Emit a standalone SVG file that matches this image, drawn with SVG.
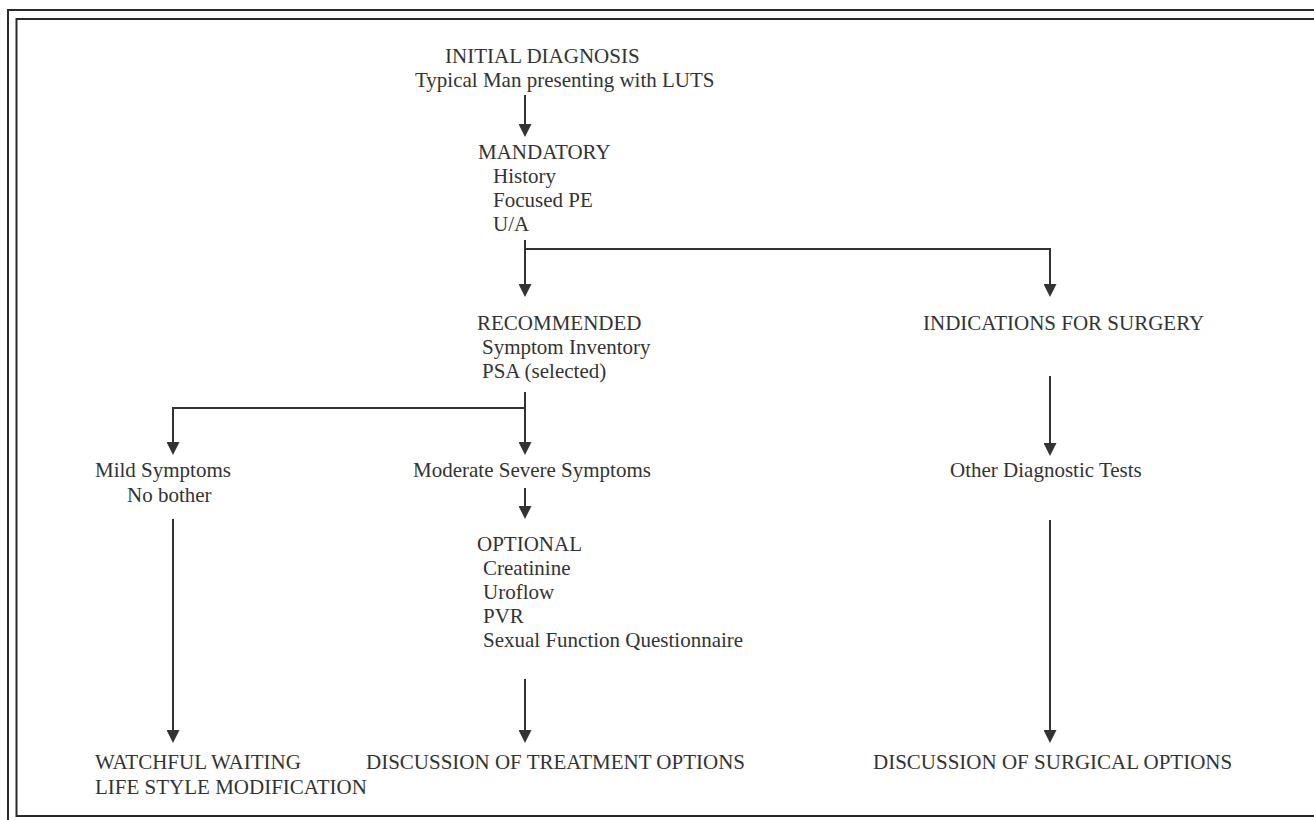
<svg xmlns="http://www.w3.org/2000/svg" width="1314" height="820" viewBox="0 0 1314 820">
  <style>
    text { font-family: "Liberation Serif", "Times New Roman", serif; font-size: 21px; fill: #333; }
    .wire { fill: none; stroke: #333; stroke-width: 2; }
    .frame { fill: none; stroke: #2a2a2a; stroke-width: 2; }
  </style>
  <defs>
    <marker id="head" markerUnits="userSpaceOnUse" markerWidth="13" markerHeight="13" refX="3" refY="6.5" orient="auto">
      <path d="M0,0 L13,6.5 L0,13 Z" fill="#333"/>
    </marker>
  </defs>

  <rect width="1314" height="820" fill="#fff"/>

  <!-- double frame -->
  <path class="frame" d="M8,830 V10 H1324"/>
  <path class="frame" d="M1324,19 H16.5 V816 H1324" stroke="#444"/>

  <!-- connectors -->
  <g id="connectors">
    <path class="wire" d="M525,95 V127" marker-end="url(#head)"/>
    <path class="wire" d="M525,240 V287" marker-end="url(#head)"/>
    <path class="wire" d="M525,249 H1050 V287" marker-end="url(#head)"/>
    <path class="wire" d="M1050,376 V446" marker-end="url(#head)"/>
    <path class="wire" d="M525,392 V445" marker-end="url(#head)"/>
    <path class="wire" d="M525,408 H173 V445" marker-end="url(#head)"/>
    <path class="wire" d="M173,519 V733" marker-end="url(#head)"/>
    <path class="wire" d="M525,488 V509" marker-end="url(#head)"/>
    <path class="wire" d="M525,679 V733" marker-end="url(#head)"/>
    <path class="wire" d="M1050,520 V733" marker-end="url(#head)"/>
  </g>

  <g id="initial">
    <text x="445" y="63">INITIAL DIAGNOSIS</text>
    <text x="415" y="87">Typical Man presenting with LUTS</text>
  </g>

  <g id="mandatory">
    <text x="478" y="159">MANDATORY</text>
    <text x="493" y="183">History</text>
    <text x="493" y="207">Focused PE</text>
    <text x="493" y="231">U/A</text>
  </g>

  <g id="recommended">
    <text x="477" y="330">RECOMMENDED</text>
    <text x="482" y="354">Symptom Inventory</text>
    <text x="482" y="378">PSA (selected)</text>
  </g>

  <g id="surgery-indications">
    <text x="923" y="330">INDICATIONS FOR SURGERY</text>
  </g>

  <g id="mild">
    <text x="95" y="477">Mild Symptoms</text>
    <text x="127" y="502">No bother</text>
  </g>

  <g id="moderate">
    <text x="413" y="477">Moderate Severe Symptoms</text>
  </g>

  <g id="other-tests">
    <text x="950" y="477">Other Diagnostic Tests</text>
  </g>

  <g id="optional">
    <text x="477" y="551">OPTIONAL</text>
    <text x="483" y="575">Creatinine</text>
    <text x="483" y="599">Uroflow</text>
    <text x="483" y="623">PVR</text>
    <text x="483" y="647">Sexual Function Questionnaire</text>
  </g>

  <g id="watchful">
    <text x="95" y="769">WATCHFUL WAITING</text>
    <text x="95" y="794">LIFE STYLE MODIFICATION</text>
  </g>

  <g id="treatment">
    <text x="366" y="769">DISCUSSION OF TREATMENT OPTIONS</text>
  </g>

  <g id="surgical">
    <text x="873" y="769">DISCUSSION OF SURGICAL OPTIONS</text>
  </g>
</svg>
